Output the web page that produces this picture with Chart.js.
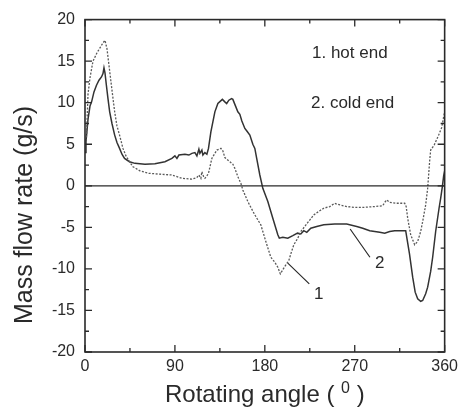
<!DOCTYPE html>
<html>
<head>
<meta charset="utf-8">
<script src="https://cdn.jsdelivr.net/npm/chart.js@4.4.0/dist/chart.umd.min.js"></script>
<style>
  html, body { margin: 0; padding: 0; background: #fff; }
  #wrap { width: 463px; height: 418px; }
</style>
</head>
<body>
<div id="wrap"><canvas id="flowChart" width="463" height="418"></canvas></div>
<script>
// curve 1: hot end (dotted)
const hotAngle = [0, 1.5, 3, 5, 8, 12, 15, 18, 20, 22, 24, 26.4, 29.7, 32, 34.6, 38, 41, 45, 48, 55, 64, 75, 87, 92, 97, 107, 112, 114, 116, 117, 119, 120, 122, 123.6, 127, 132, 136, 138, 140, 142, 145, 148, 150, 153, 156, 158, 163, 166, 170, 176, 178, 181, 186, 190, 193, 195.5, 199.5, 204, 206, 209, 213, 216, 222.5, 229, 235, 239, 245, 250, 252, 262, 270, 278.6, 290, 298, 300, 302, 305, 311.6, 320, 321.5, 323, 326, 330, 333, 336, 338, 341, 343, 345, 346, 349.5, 354, 357, 359, 360];
const hotFlow = [5.0, 6, 11, 13, 15, 16, 16.6, 17.2, 17.5, 16.5, 14.5, 12.1, 8.9, 7.2, 6.1, 4.5, 3.6, 2.8, 2.3, 1.8, 1.5, 1.4, 1.3, 1.1, 0.9, 0.8, 1.0, 1.3, 0.9, 1.7, 1.0, 0.9, 1.2, 1.5, 3.3, 4.3, 4.5, 4.2, 3.4, 3.2, 2.9, 2.6, 2.1, 1.1, 0.3, -0.5, -1.9, -2.6, -3.5, -4.7, -5.5, -6.7, -8.6, -9.2, -9.8, -10.6, -9.8, -9.0, -8.2, -7.1, -6.3, -5.5, -4.5, -3.5, -3.0, -2.7, -2.5, -2.1, -2.2, -2.5, -2.6, -2.6, -2.5, -2.4, -2.0, -1.7, -2.0, -2.1, -2.1, -2.5, -3.9, -5.9, -7.1, -6.7, -5.5, -4.3, -2.3, -0.3, 3.0, 4.3, 4.9, 6.1, 7.0, 8.3, 8.9];

// curve 2: cold end (solid)
const coldAngle = [0, 1, 3, 5, 6.6, 9, 11.5, 14, 16.5, 18, 19, 20, 21.4, 23, 24.7, 27, 29.7, 32, 34.6, 37, 39.6, 44.5, 50, 60, 70, 80, 87, 90, 92, 94, 100, 104, 107, 110, 112, 114, 115, 117, 118, 120, 122, 123.6, 126, 130, 133, 137.5, 140, 141.8, 144, 146.7, 148, 150, 153, 155, 157, 160, 162, 165, 168, 170, 172, 175, 178, 183, 188, 193, 194.5, 198, 203, 208, 212.7, 216, 219, 222, 226, 232, 239, 250, 262, 272, 278, 285, 290, 295, 300, 305, 310, 321, 322.5, 324.8, 328, 330.5, 333, 336, 338, 341, 343, 346, 348, 351, 354.4, 356, 357.7, 359, 360];
const coldFlow = [4.0, 5.3, 8, 9.6, 10.1, 11.3, 12.1, 12.7, 13.1, 13.5, 14.2, 13.6, 12.1, 10.5, 8.9, 7.5, 6.1, 5.2, 4.5, 3.8, 3.3, 2.9, 2.7, 2.6, 2.65, 2.9, 3.3, 3.6, 3.3, 3.7, 3.8, 3.7, 3.9, 4.0, 3.6, 4.4, 3.9, 4.3, 3.7, 4.0, 3.8, 4.5, 6.5, 8.9, 9.9, 10.4, 10.1, 9.9, 10.3, 10.5, 10.4, 9.8, 8.9, 8.6, 7.8, 6.9, 6.6, 6.1, 5.0, 4.5, 3.2, 1.3, -0.3, -1.9, -3.9, -5.9, -6.3, -6.2, -6.3, -6.0, -5.7, -5.8, -5.4, -5.6, -5.1, -4.9, -4.7, -4.6, -4.6, -4.9, -5.1, -5.4, -5.5, -5.6, -5.7, -5.5, -5.4, -5.4, -6.5, -8.2, -11, -12.8, -13.6, -13.9, -13.8, -13.0, -12.2, -10.3, -8.6, -5.5, -2.7, -1.5, -0.1, 1.2, 1.8];

const xTicks = [0, 90, 180, 270, 360];
const yTicks = [-20, -15, -10, -5, 0, 5, 10, 15, 20];

const legendLines = ['1. hot end', '2. cold end'];
const curveLabels = ['1', '2'];

const FONT = 'Arial, "Liberation Sans", sans-serif';
const ink = '#2a2a2a';

function toPoints(xs, ys) {
    return xs.map((x, i) => ({ x: x, y: ys[i] }));
}

const decorPlugin = {
    id: 'decor',
    afterDatasetsDraw(chart) {
        const c = chart.ctx;
        const xs = chart.scales.x;
        const ys = chart.scales.y;
        const a = chart.chartArea;
        c.save();
        c.strokeStyle = ink;
        c.fillStyle = ink;

        // zero line
        c.lineWidth = 1.3;
        c.beginPath();
        c.moveTo(a.left, ys.getPixelForValue(0));
        c.lineTo(a.right, ys.getPixelForValue(0));
        c.stroke();

        // frame
        c.lineWidth = 1.6;
        c.strokeRect(a.left, a.top, a.right - a.left, a.bottom - a.top);

        // inward ticks on all four sides
        c.lineWidth = 1.3;
        c.beginPath();
        for (let v = 0; v <= 360; v += 45) {
            const px = xs.getPixelForValue(v);
            const len = v % 90 === 0 ? 7 : 4;
            c.moveTo(px, a.bottom); c.lineTo(px, a.bottom - len);
            c.moveTo(px, a.top); c.lineTo(px, a.top + len);
        }
        for (let v = -20; v <= 20; v += 2.5) {
            const py = ys.getPixelForValue(v);
            const len = v % 5 === 0 ? 7 : 4;
            c.moveTo(a.left, py); c.lineTo(a.left + len, py);
            c.moveTo(a.right, py); c.lineTo(a.right - len, py);
        }
        c.stroke();

        // legend text
        c.font = '17px ' + FONT;
        c.textAlign = 'left';
        c.textBaseline = 'alphabetic';
        c.fillText(legendLines[0], 312, 58);
        c.fillText(legendLines[1], 311, 108);

        // leader lines and curve numbers
        c.lineWidth = 1.2;
        c.beginPath();
        c.moveTo(xs.getPixelForValue(203), ys.getPixelForValue(-9.3));
        c.lineTo(xs.getPixelForValue(224.5), ys.getPixelForValue(-11.8));
        c.moveTo(xs.getPixelForValue(265.4), ys.getPixelForValue(-5.2));
        c.lineTo(xs.getPixelForValue(285.2), ys.getPixelForValue(-8.6));
        c.stroke();
        c.textAlign = 'center';
        c.textBaseline = 'middle';
        c.fillText(curveLabels[0], xs.getPixelForValue(234), ys.getPixelForValue(-13));
        c.fillText(curveLabels[1], xs.getPixelForValue(295), ys.getPixelForValue(-9.3));

        // x title with superscript
        const main = 'Rotating angle ( ';
        const sup = '0';
        const tail = ' )';
        c.textBaseline = 'alphabetic';
        c.textAlign = 'left';
        c.font = '24px ' + FONT;
        const w1 = c.measureText(main).width;
        const w3 = c.measureText(tail).width;
        c.font = '16px ' + FONT;
        const w2 = c.measureText(sup).width;
        let tx = (a.left + a.right) / 2 - (w1 + w2 + w3) / 2;
        const base = 402;
        c.font = '24px ' + FONT;
        c.fillText(main, tx, base);
        c.font = '16px ' + FONT;
        c.fillText(sup, tx + w1, base - 9);
        c.font = '24px ' + FONT;
        c.fillText(tail, tx + w1 + w2, base);

        // y title
        c.translate(25, 215);
        c.rotate(-Math.PI / 2);
        c.textAlign = 'center';
        c.textBaseline = 'middle';
        c.font = '25px ' + FONT;
        c.fillText('Mass flow rate (g/s)', 0, 0);
        c.restore();
    }
};

const ctx = document.getElementById('flowChart').getContext('2d');
const chart = new Chart(ctx, {
    type: 'line',
    data: {
        datasets: [{
            label: '1. hot end',
            data: toPoints(hotAngle, hotFlow),
            borderColor: '#5a5a5a',
            borderWidth: 1.3,
            borderDash: [2, 1.5],
            pointRadius: 0,
            tension: 0,
            fill: false
        }, {
            label: '2. cold end',
            data: toPoints(coldAngle, coldFlow),
            borderColor: '#333333',
            borderWidth: 1.5,
            pointRadius: 0,
            tension: 0,
            fill: false
        }]
    },
    options: {
        responsive: false,
        animation: false,
        layout: { padding: { top: 17, right: 14, left: 0, bottom: 0 } },
        plugins: {
            legend: { display: false },
            tooltip: { enabled: false }
        },
        scales: {
            x: {
                type: 'linear',
                min: 0,
                max: 360,
                afterBuildTicks: s => { s.ticks = xTicks.map(v => ({ value: v })); },
                afterFit: s => { s.height = 66; },
                grid: { display: false, drawTicks: false },
                border: { display: false },
                ticks: { color: ink, padding: 5, font: { size: 16, family: FONT }, maxRotation: 0 }
            },
            y: {
                type: 'linear',
                min: -20,
                max: 20,
                afterBuildTicks: s => { s.ticks = yTicks.map(v => ({ value: v })); },
                afterFit: s => { s.width = 85; },
                grid: { display: false, drawTicks: false },
                border: { display: false },
                ticks: { color: ink, padding: 10, font: { size: 16, family: FONT } }
            }
        }
    },
    plugins: [decorPlugin]
});
</script>
</body>
</html>
